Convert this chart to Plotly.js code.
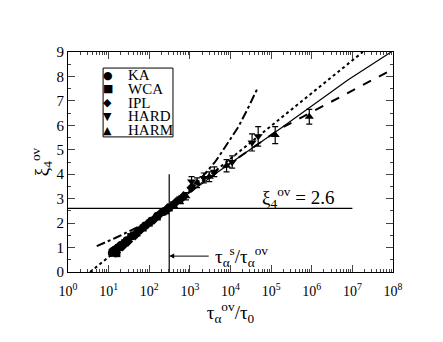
<!DOCTYPE html>
<html>
<head>
<meta charset="utf-8">
<script src="https://cdn.plot.ly/plotly-3.0.1.min.js"></script>
<style>body{margin:0;background:#fff}</style>
</head>
<body>
<div id="myDiv" style="width:443px;height:342px"></div>
<script>
// ---- data ----
var ka_x = [12, 14, 17, 20, 28, 40, 56, 79, 112, 158, 224, 316];
var ka_y = [0.78, 0.9, 1.0, 1.1, 1.3, 1.5, 1.7, 1.9, 2.1, 2.3, 2.45, 2.65];

var wca_x = [13, 16, 18, 25, 35, 50, 71, 100, 158, 251, 398, 562];
var wca_y = [0.85, 0.75, 1.0, 1.2, 1.45, 1.6, 1.8, 2.0, 2.25, 2.5, 2.75, 2.95];

var ipl_x = [15, 22, 30, 45, 63, 90, 130, 190, 280, 450, 700, 1100];
var ipl_y = [0.8, 1.05, 1.25, 1.5, 1.75, 1.95, 2.15, 2.4, 2.6, 2.85, 3.1, 3.45];

var hard_x = [320, 600, 1100, 2200, 4000, 11000, 34000, 48000];
var hard_y = [2.6, 2.95, 3.7, 3.85, 4.1, 4.5, 5.3, 5.55];
var hard_err = [0.1, 0.15, 0.2, 0.2, 0.2, 0.25, 0.35, 0.4];

var harm_x = [400, 800, 1500, 3000, 8000, 126000, 870000];
var harm_y = [2.7, 3.1, 3.65, 3.9, 4.35, 5.6, 6.35];
var harm_err = [0.1, 0.15, 0.2, 0.2, 0.25, 0.35, 0.3];

var solid_x = [10, 316, 5500, 166000, 7.9e6, 1e8];
var solid_y = [0.9, 2.65, 4.15, 5.86, 7.86, 9.05];

var dashed_x = [3000, 166000, 1e8];
var dashed_y = [3.85, 5.86, 8.3];

var dotted_x = [3.5, 1.8e7];
var dotted_y = [0, 9];

var dashdot_x = [5.1, 14.5, 63, 316, 1260, 4170, 5500, 15500, 25700, 47900];
var dashdot_y = [1.06, 1.39, 1.9, 2.6, 3.5, 4.5, 4.79, 5.93, 6.63, 7.57];

var hline_x = [1, 1e7];
var hline_y = [2.6, 2.6];
var vline_x = [310, 310];
var vline_y = [0, 4];

var tick_vals = [1, 10, 100, 1e3, 1e4, 1e5, 1e6, 1e7, 1e8];
var tick_text = ['10<sup>0</sup>', '10<sup>1</sup>', '10<sup>2</sup>', '10<sup>3</sup>', '10<sup>4</sup>',
                 '10<sup>5</sup>', '10<sup>6</sup>', '10<sup>7</sup>', '10<sup>8</sup>'];

var legend_names = ['KA', 'WCA', 'IPL', 'HARD', 'HARM'];
var legend_glyphs = ['●', '■', '◆', '▼', '▲'];

var serif = 'Liberation Serif, Times New Roman, serif';

function lineTrace(x, y, dash, width){
    return {x: x, y: y, mode: 'lines', type: 'scatter', showlegend: false, hoverinfo: 'skip',
            line: {color: 'black', dash: dash, width: width}};
}

function markTrace(x, y, name, symbol, size, err){
    var t = {x: x, y: y, mode: 'markers', type: 'scatter', name: name, showlegend: false,
             marker: {symbol: symbol, color: 'black', size: size}};
    if (err) {
        t.error_y = {type: 'data', array: err, visible: true, color: 'black', thickness: 1.2, width: 3};
    }
    return t;
}

var data = [
    lineTrace(hline_x, hline_y, 'solid', 1.2),
    lineTrace(vline_x, vline_y, 'solid', 1.2),
    lineTrace(dotted_x, dotted_y, 'dot', 2),
    lineTrace(dashdot_x, dashdot_y, 'dashdot', 2),
    lineTrace(dashed_x, dashed_y, 'dash', 2),
    lineTrace(solid_x, solid_y, 'solid', 1.2),
    markTrace(ka_x, ka_y, 'KA', 'circle', 8),
    markTrace(wca_x, wca_y, 'WCA', 'square', 7),
    markTrace(ipl_x, ipl_y, 'IPL', 'diamond', 8),
    markTrace(hard_x, hard_y, 'HARD', 'triangle-down', 8, hard_err),
    markTrace(harm_x, harm_y, 'HARM', 'triangle-up', 8, harm_err)
];

// hand-made legend: the native one cannot be packed this tightly
var legendTop = 0.895, legendStep = 0.0625;
var annotations = [
    {x: 5.67, y: 3.05, xref: 'x', yref: 'y', text: 'ξ<sub>4</sub><sup>ov</sup> = 2.6',
     showarrow: false, font: {family: serif, size: 19}},
    {x: Math.log10(310), y: 0.65, ax: 3.5, ay: 0.65, xref: 'x', yref: 'y', axref: 'x', ayref: 'y',
     text: '', showarrow: true, arrowhead: 2, arrowsize: 1, arrowwidth: 1, arrowcolor: 'black'},
    {x: 3.58, y: 0.65, xref: 'x', yref: 'y', xanchor: 'left', yanchor: 'middle',
     text: 'τ<sub>α</sub><sup>s</sup>/τ<sub>α</sub><sup>ov</sup>',
     showarrow: false, font: {family: serif, size: 19}}
];
legend_names.forEach(function(n, i){
    var yy = legendTop - i * legendStep;
    annotations.push({x: 0.123, y: yy, xref: 'paper', yref: 'paper', xanchor: 'center', yanchor: 'middle',
        text: legend_glyphs[i], showarrow: false, font: {family: 'DejaVu Sans', size: 11}});
    annotations.push({x: 0.178, y: yy, xref: 'paper', yref: 'paper', xanchor: 'left', yanchor: 'middle',
        text: n, showarrow: false, font: {family: serif, size: 15}});
});

var layout = {
    width: 443,
    height: 342,
    margin: {l: 68, r: 50, t: 52, b: 70},
    paper_bgcolor: 'white',
    plot_bgcolor: 'white',
    font: {family: serif, size: 14, color: 'black'},
    showlegend: false,
    xaxis: {
        type: 'log',
        range: [0, 8],
        tickvals: tick_vals,
        ticktext: tick_text,
        ticks: 'inside', ticklen: 7, tickwidth: 1,
        ticklabelstandoff: 6,
        minor: {ticks: 'inside', ticklen: 3, dtick: 'D1', showgrid: false},
        showline: true, linecolor: 'black', linewidth: 1, mirror: 'ticks',
        showgrid: false, zeroline: false,
        tickfont: {family: serif, size: 14},
        title: {text: 'τ<sub>α</sub><sup>ov</sup>/τ<sub>0</sub>', font: {family: serif, size: 19}, standoff: 2}
    },
    yaxis: {
        range: [0, 9],
        dtick: 1,
        ticks: 'inside', ticklen: 7, tickwidth: 1,
        minor: {ticks: 'inside', ticklen: 3, dtick: 0.5, showgrid: false},
        showline: true, linecolor: 'black', linewidth: 1, mirror: 'ticks',
        showgrid: false, zeroline: false,
        tickfont: {family: serif, size: 15},
        title: {text: 'ξ<sub>4</sub><sup>ov</sup>', font: {family: serif, size: 19}, standoff: 2}
    },
    shapes: [
        {type: 'rect', xref: 'paper', yref: 'paper', x0: 0.108, x1: 0.323, y0: 0.614, y1: 0.927,
         line: {color: 'black', width: 1}, fillcolor: 'white', layer: 'above'}
    ],
    annotations: annotations
};

Plotly.newPlot('myDiv', data, layout, {displayModeBar: false, staticPlot: true});
</script>
</body>
</html>
